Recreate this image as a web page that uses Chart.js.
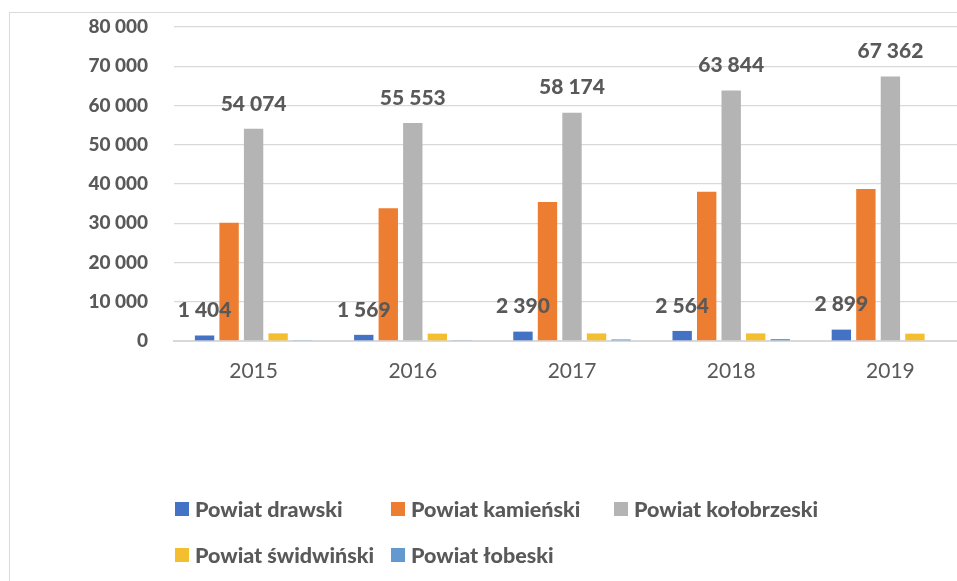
<!DOCTYPE html>
<html>
<head>
<meta charset="utf-8">
<script src="https://cdn.jsdelivr.net/npm/chart.js@4.4.1/dist/chart.umd.min.js"></script>
<style>
  html, body { margin: 0; padding: 0; background: #fff; overflow: hidden; }
  #wrap { position: relative; width: 972px; height: 581px; }
  #frame { position: absolute; left: 9px; top: 12px; right: 0; bottom: 0; border-left: 1px solid #d9d9d9; border-top: 1px solid #d9d9d9; pointer-events: none; }
</style>
</head>
<body>
<div id="wrap"><canvas id="chart"></canvas><div id="frame"></div></div>
<script>
const years = ['2015', '2016', '2017', '2018', '2019'];
const drawski = [1404, 1569, 2390, 2564, 2899];
const kamienski = [30100, 33800, 35400, 38000, 38700];
const kolobrzeski = [54074, 55553, 58174, 63844, 67362];
const swidwinski = [1950, 1880, 1930, 1940, 1870];
const lobeski = [120, 120, 400, 500, null];
const seriesNames = ['Powiat drawski', 'Powiat kamieński', 'Powiat kołobrzeski', 'Powiat świdwiński', 'Powiat łobeski'];
const seriesColors = ['#4472C4', '#ED7D31', '#B4B4B4', '#F4BF2F', '#6399CE'];
const yTickValues = [0, 10000, 20000, 30000, 40000, 50000, 60000, 70000, 80000];
const labelledSeries = [0, 2];

const textColor = '#595959';
const fontFamily = 'Lato, "Open Sans", sans-serif';

// 54074 -> "54 074"
const fmt = v => String(v).replace(/\B(?=(\d{3})+(?!\d))/g, ' ');

const valueLabels = {
    id: 'valueLabels',
    afterDatasetsDraw(chart) {
        const ctx = chart.ctx;
        ctx.save();
        ctx.font = `900 21px ${fontFamily}`;
        ctx.fillStyle = textColor;
        ctx.textAlign = 'center';
        ctx.textBaseline = 'middle';
        labelledSeries.forEach(i => {
            const values = chart.data.datasets[i].data;
            chart.getDatasetMeta(i).data.forEach((bar, j) => {
                ctx.fillText(fmt(values[j]), bar.x, bar.y - 25);
            });
        });
        ctx.restore();
    }
};

// legend laid out in rows/columns like the Excel original
const legendRows = [[0, 1, 2], [3, 4]];
const legendCols = [175, 391, 614];
const legendRowY = [509, 555];
const boxLegend = {
    id: 'boxLegend',
    afterDraw(chart) {
        const ctx = chart.ctx;
        ctx.save();
        ctx.font = `900 21.5px ${fontFamily}`;
        ctx.textBaseline = 'middle';
        ctx.textAlign = 'left';
        legendRows.forEach((row, r) => {
            row.forEach((i, c) => {
                const ds = chart.data.datasets[i];
                const x = legendCols[c], y = legendRowY[r];
                ctx.fillStyle = ds.backgroundColor;
                ctx.fillRect(x, y - 7, 14, 14);
                ctx.fillStyle = textColor;
                ctx.fillText(ds.label, x + 20, y + 1);
            });
        });
        ctx.restore();
    }
};

const seriesData = [drawski, kamienski, kolobrzeski, swidwinski, lobeski];

new Chart(document.getElementById('chart'), {
    type: 'bar',
    data: {
        labels: years,
        datasets: seriesData.map((d, i) => ({
            label: seriesNames[i],
            data: d,
            backgroundColor: seriesColors[i],
            borderWidth: 0,
            categoryPercentage: 0.77,
            barPercentage: 0.79
        }))
    },
    options: {
        responsive: true,
        maintainAspectRatio: false,
        animation: false,
        layout: { padding: { top: 27, right: 2, bottom: 0, left: 0 } },
        plugins: {
            legend: { display: false },
            tooltip: { enabled: false }
        },
        scales: {
            x: {
                grid: { display: false, drawTicks: false },
                border: { display: true, color: '#d9d9d9', width: 2 },
                ticks: { color: textColor, font: { family: fontFamily, size: 21 }, padding: 18 },
                afterFit: s => { s.height = 240; }
            },
            y: {
                min: 0,
                max: 80000,
                afterBuildTicks: s => { s.ticks = yTickValues.map(v => ({ value: v })); },
                grid: { color: '#d9d9d9', lineWidth: 1.3, drawTicks: false },
                border: { display: false },
                ticks: {
                    color: textColor,
                    font: { family: fontFamily, size: 19, weight: '900' },
                    padding: 26,
                    callback: v => fmt(v)
                },
                // tick padding would otherwise push the plot top down
                afterFit: s => { s.width = 174; s.paddingTop = 12; s.paddingBottom = 12; }
            }
        }
    },
    plugins: [valueLabels, boxLegend]
});
</script>
</body>
</html>
